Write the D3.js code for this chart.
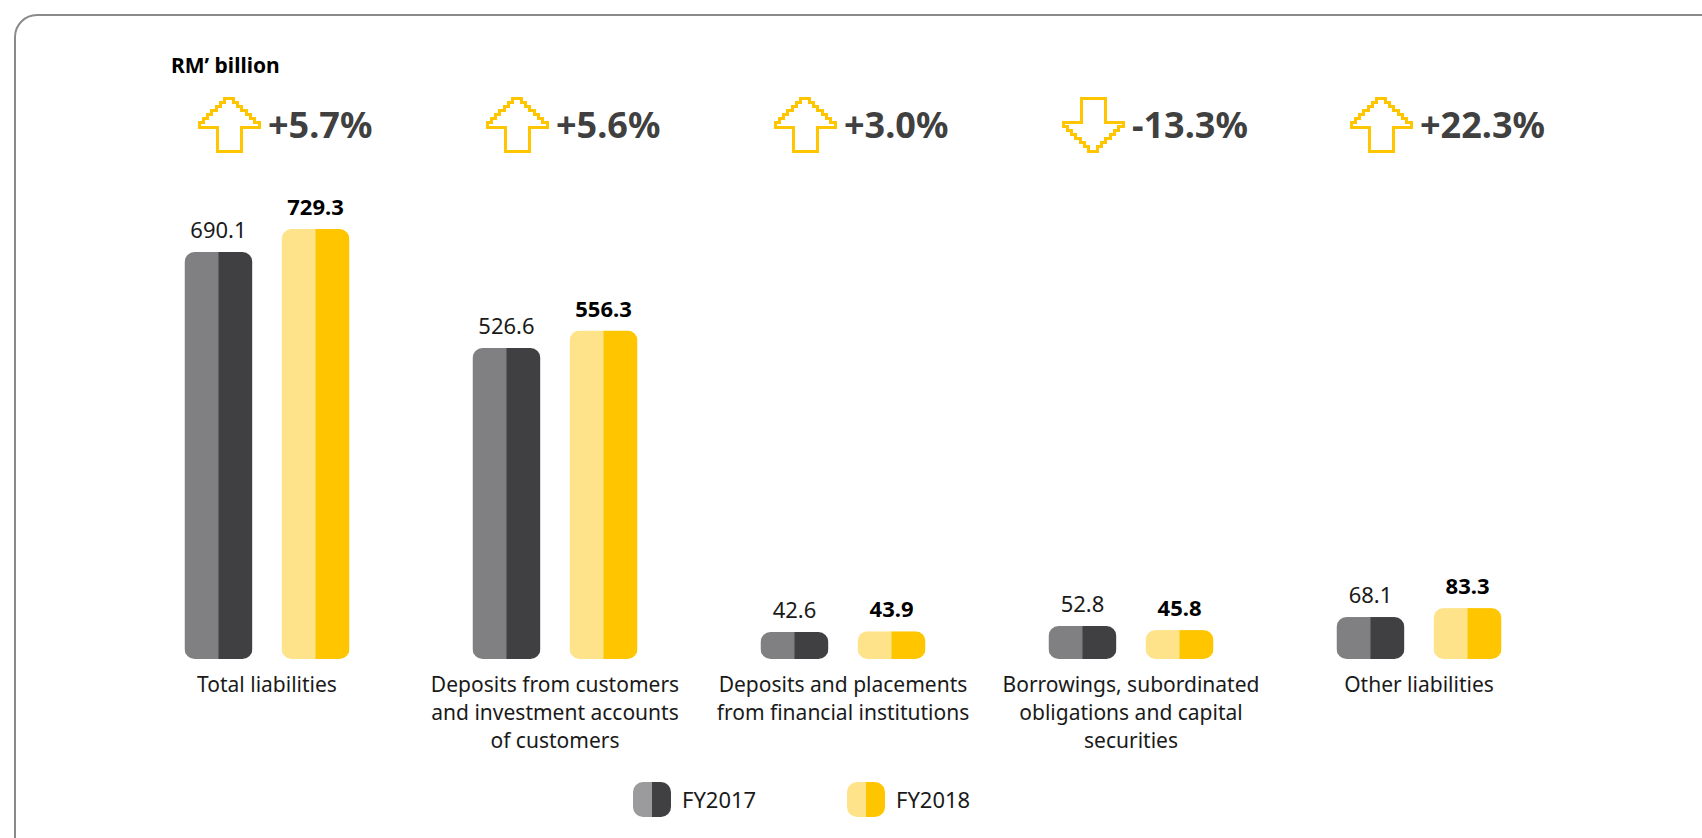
<!DOCTYPE html>
<html>
<head>
<meta charset="utf-8">
<script src="https://cdn.jsdelivr.net/npm/d3@7"></script>
<style>
  body { margin: 0; background: #ffffff; }
  svg { display: block; font-family: "Noto Sans", "Open Sans", sans-serif; }
</style>
</head>
<body>
<div id="chart"></div>
<script>
// Données
const categories = [
    "Total liabilities",
    "Deposits from customers and investment accounts of customers",
    "Deposits and placements from financial institutions",
    "Borrowings, subordinated obligations and capital securities",
    "Other liabilities"
];
const categoryLines = [
    ["Total liabilities"],
    ["Deposits from customers", "and investment accounts", "of customers"],
    ["Deposits and placements", "from financial institutions"],
    ["Borrowings, subordinated", "obligations and capital", "securities"],
    ["Other liabilities"]
];
const years = ["FY2017", "FY2018"];
const fy2017 = [690.1, 526.6, 42.6, 52.8, 68.1];
const fy2018 = [729.3, 556.3, 43.9, 45.8, 83.3];
const changes = [5.7, 5.6, 3.0, -13.3, 22.3];

const colors = {
    "FY2017": ["#808082", "#404042"],
    "FY2018": ["#FFE38A", "#FFC600"]
};
const legendColors = {
    "FY2017": ["#9B9B9D", "#404042"],
    "FY2018": ["#FFE38A", "#FFC600"]
};

//---------------------------------------------------------------------------------------

const width = 1702;
const height = 838;
const baseline = 659;

const svg = d3.select("#chart")
    .append("svg")
    .attr("width", width)
    .attr("height", height);

// cadre arrondi
svg.append("rect")
    .attr("x", 15)
    .attr("y", 15)
    .attr("width", 1800)
    .attr("height", 900)
    .attr("rx", 22)
    .attr("fill", "none")
    .attr("stroke", "#8a8a8a")
    .attr("stroke-width", 2);

// unité
svg.append("text")
    .attr("x", 171)
    .attr("y", 73)
    .attr("font-size", "21px")
    .attr("font-weight", "bold")
    .attr("fill", "#000")
    .text("RM\u2019 billion");

//---------------------------------------------------------------------------------------

// Échelles
const x0 = d3.scaleBand()
    .domain(categories)
    .range([123, 1563]);

const x1 = d3.scaleBand()
    .domain(years)
    .range([x0.bandwidth() / 2 - 82.5, x0.bandwidth() / 2 + 82.5])
    .paddingInner(0.3);

const y = d3.scaleLinear()
    .domain([0, 729.3])
    .range([baseline - 2, 229]);

const rows = categories.map((c, i) => ({
    cat: c,
    lines: categoryLines[i],
    change: changes[i],
    bars: [
        { year: "FY2017", value: fy2017[i] },
        { year: "FY2018", value: fy2018[i] }
    ]
}));

//---------------------------------------------------------------------------------------

// Barres
const defs = svg.append("defs");

const groups = svg.selectAll("g.group")
    .data(rows)
    .join("g")
    .attr("class", "group")
    .attr("transform", d => `translate(${x0(d.cat)},0)`);

groups.each(function (d, gi) {
    const g = d3.select(this);
    d.bars.forEach((b, bi) => {
        const bx = x1(b.year);
        const bw = x1.bandwidth();
        const by = y(b.value);
        const bh = baseline - by;
        const id = `clip-${gi}-${bi}`;
        defs.append("clipPath")
            .attr("id", id)
            .append("rect")
            .attr("x", x0(d.cat) + bx)
            .attr("y", by)
            .attr("width", bw)
            .attr("height", bh)
            .attr("rx", Math.min(10, bh / 2));
        const bar = g.append("g")
            .attr("clip-path", `url(#${id})`)
            .attr("transform", `translate(${-x0(d.cat)},0)`);
        bar.append("rect")
            .attr("x", x0(d.cat) + bx)
            .attr("y", by)
            .attr("width", bw / 2 + 0.5)
            .attr("height", bh)
            .attr("fill", colors[b.year][0]);
        bar.append("rect")
            .attr("x", x0(d.cat) + bx + bw / 2)
            .attr("y", by)
            .attr("width", bw / 2)
            .attr("height", bh)
            .attr("fill", colors[b.year][1]);

        // étiquette de valeur
        g.append("text")
            .attr("x", bx + bw / 2)
            .attr("y", by - 14)
            .attr("text-anchor", "middle")
            .attr("font-size", "22px")
            .attr("font-weight", b.year === "FY2018" ? "bold" : "normal")
            .attr("fill", b.year === "FY2018" ? "#000" : "#1a1a1a")
            .text(b.value.toFixed(1));
    });

    // libellé de catégorie
    const label = g.append("text")
        .attr("text-anchor", "middle")
        .attr("font-size", "21px")
        .attr("fill", "#1a1a1a");
    d.lines.forEach((l, li) => {
        label.append("tspan")
            .attr("x", x0.bandwidth() / 2)
            .attr("y", 692 + li * 28)
            .text(l);
    });

    // flèche + variation
    const ax = x0.bandwidth() / 2 - 68;
    const ay = 98;
    const up = d.change >= 0;
    g.append("path")
        .attr("d", arrowPath(ax, ay, up))
        .attr("fill", "none")
        .attr("stroke", "#FFC600")
        .attr("stroke-width", 3)
        .attr("shape-rendering", "crispEdges");

    g.append("text")
        .attr("x", x0.bandwidth() / 2 + 1)
        .attr("y", 138)
        .attr("font-size", "36px")
        .attr("font-weight", "bold")
        .attr("fill", "#404040")
        .text((up ? "+" : "") + d.change.toFixed(1) + "%");
});

// flèche en escalier (contour)
function arrowPath(x, yTop, up) {
    const w = 60, h = 53, head = 29, sl = 18, sr = 42;
    const steps = 7;
    const pts = [];
    const tip = [x + w / 2, up ? yTop : yTop + h];
    const hy = up ? yTop + head : yTop + h - head;
    const stepX = (w / 2) / steps;
    const stepY = (hy - tip[1]) / steps;
    let cx = tip[0], cy = tip[1];
    pts.push([cx, cy]);
    for (let s = 0; s < steps; s++) {
        cx += stepX; pts.push([cx, cy]);
        cy += stepY; pts.push([cx, cy]);
    }
    const sy = up ? yTop + h : yTop;
    pts.push([x + sr, hy], [x + sr, sy], [x + sl, sy], [x + sl, hy], [x, hy]);
    cx = x; cy = hy;
    for (let s = 0; s < steps; s++) {
        cy -= stepY; pts.push([cx, cy]);
        cx += stepX; pts.push([cx, cy]);
    }
    return "M" + pts.map(p => p.join(",")).join("L") + "Z";
}

//---------------------------------------------------------------------------------------

// Légende
const legendX = [633, 847];
const legend = svg.selectAll("g.legend")
    .data(years)
    .join("g")
    .attr("class", "legend")
    .attr("transform", (d, i) => `translate(${legendX[i]},782)`);

legend.each(function (d, i) {
    const g = d3.select(this);
    const id = `clip-leg-${i}`;
    defs.append("clipPath")
        .attr("id", id)
        .append("rect")
        .attr("x", legendX[i])
        .attr("y", 782)
        .attr("width", 38)
        .attr("height", 35)
        .attr("rx", 10);
    const sw = g.append("g")
        .attr("clip-path", `url(#${id})`)
        .attr("transform", `translate(${-legendX[i]},-782)`);
    sw.append("rect")
        .attr("x", legendX[i]).attr("y", 782)
        .attr("width", 19.5).attr("height", 35)
        .attr("fill", legendColors[d][0]);
    sw.append("rect")
        .attr("x", legendX[i] + 19).attr("y", 782)
        .attr("width", 19).attr("height", 35)
        .attr("fill", legendColors[d][1]);
    g.append("text")
        .attr("x", 49)
        .attr("y", 26)
        .attr("font-size", "22px")
        .attr("fill", "#1a1a1a")
        .text(d);
});
</script>
</body>
</html>
